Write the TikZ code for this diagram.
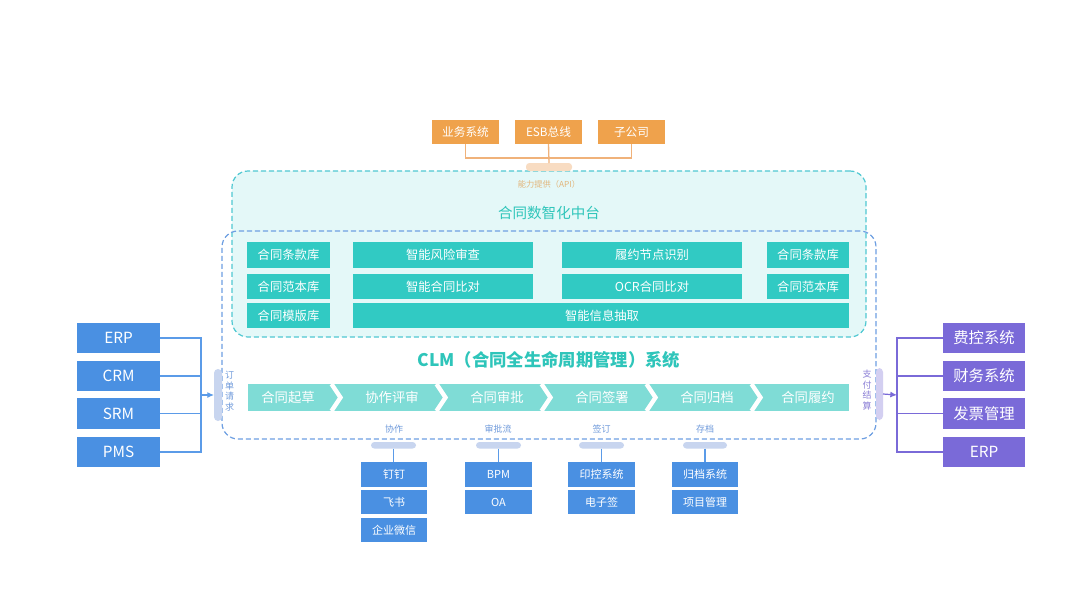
\documentclass[tikz,border=0pt]{standalone}
\usepackage{fontspec}
\setmainfont{Noto Sans CJK SC}
\usetikzlibrary{arrows.meta}
\definecolor{orangebox}{HTML}{EFA24C}
\definecolor{orangeline}{HTML}{F0B27A}
\definecolor{orangepill}{HTML}{F8DCC2}
\definecolor{apitext}{HTML}{E2B57A}
\definecolor{platfill}{HTML}{E4F8F8}
\definecolor{platline}{HTML}{4FC8D2}
\definecolor{teal}{HTML}{31CAC3}
\definecolor{tealtitle}{HTML}{2EC5BA}
\definecolor{barfill}{HTML}{7FDCD6}
\definecolor{clmline}{HTML}{6E9FE2}
\definecolor{bluebox}{HTML}{4A90E2}
\definecolor{blueline}{HTML}{5B9BE8}
\definecolor{bluepill}{HTML}{C8D5EF}
\definecolor{bluetext}{HTML}{6F9ADB}
\definecolor{purplebox}{HTML}{7A6AD8}
\definecolor{purplepill}{HTML}{D3CFF1}
\definecolor{purpletext}{HTML}{8A7ED6}
% box from pixel corners: style, name, x1, y1, x2, y2, text
\newcommand\pxbox[7]{\node[#1, minimum width={(#5-#3)*0.75pt}, minimum height={(#6-#4)*0.75pt}] (#2) at ({(#3+#5)/2},{(#4+#6)/2}) {#7};}
\tikzset{
  fbox/.style={inner sep=0pt, outer sep=0pt, text=white},
  obox/.style={fbox, fill=orangebox, font=\fontsize{8.75}{10}\selectfont},
  mbox/.style={fbox, fill=teal, font=\fontsize{9.25}{11}\selectfont},
  lbox/.style={fbox, fill=bluebox, font=\fontsize{11.5}{13}\selectfont},
  rbox/.style={fbox, fill=purplebox, font=\fontsize{11.5}{13}\selectfont},
  sbox/.style={fbox, fill=bluebox, font=\fontsize{8.25}{10}\selectfont},
  pillshape/.style={inner sep=0pt, outer sep=0pt, rounded corners=2.5pt},
  oline/.style={draw=orangeline, line width=1pt},
  bline/.style={draw=blueline, line width=0.9pt},
  pline/.style={draw=purplebox, line width=0.9pt},
  dashline/.style={dash pattern=on 3.8pt off 2.2pt, line width=0.9pt},
  chev/.style={draw=white, line width=3.3pt, line join=miter},
  steptext/.style={text=white, font=\fontsize{10}{12}\selectfont, inner sep=0pt},
  smalllabel/.style={text=bluetext, font=\fontsize{6.75}{8}\selectfont, inner sep=0pt},
  vertlabel/.style={font=\fontsize{6.75}{8}\selectfont, align=center, inner sep=0pt},
}
\begin{document}
\begin{tikzpicture}[x=0.75pt,y=-0.75pt]
\useasboundingbox[fill=white] (0,0) rectangle (1080,608);

% platform (cyan dashed)
\pxbox{inner sep=0pt, draw=platline, dashline, fill=platfill, rounded corners=12pt}{plat}{232}{171}{866}{337}{}
% CLM box (blue dashed)
\pxbox{inner sep=0pt, draw=clmline, dashline, rounded corners=12pt}{clm}{222}{231}{876}{439}{}

% top sources
\pxbox{obox}{t1}{432}{120}{499}{144}{业务系统}
\pxbox{obox}{t2}{515}{120}{582}{144}{ESB总线}
\pxbox{obox}{t3}{598}{120}{665}{144}{子公司}
\pxbox{pillshape, fill=orangepill}{apill}{526}{163}{572}{171}{}
\coordinate (hb) at (548.5,158);
\draw[oline] (t1.south) |- (hb) -| (t3.south);
\draw[oline] (t2.south) -- (apill.north);

\node[text=apitext, font=\fontsize{6.2}{8}\selectfont, inner sep=0pt] (api) at (549,184) {能力提供（API）};
\node[text=tealtitle, font=\fontsize{10.9}{13}\selectfont, inner sep=0pt] (ptitle) at (549,213) {合同数智化中台};

% modules
\pxbox{mbox}{m1}{247}{242}{330}{268}{合同条款库}
\pxbox{mbox}{m2}{353}{242}{533}{268}{智能风险审查}
\pxbox{mbox}{m3}{562}{242}{742}{268}{履约节点识别}
\pxbox{mbox}{m4}{767}{242}{849}{268}{合同条款库}
\pxbox{mbox}{m5}{247}{274}{330}{299}{合同范本库}
\pxbox{mbox}{m6}{353}{274}{533}{299}{智能合同比对}
\pxbox{mbox}{m7}{562}{274}{742}{299}{OCR合同比对}
\pxbox{mbox}{m8}{767}{274}{849}{299}{合同范本库}
\pxbox{mbox}{m9}{247}{303}{330}{328}{合同模版库}
\pxbox{mbox}{m10}{353}{303}{849}{328}{}
\node[text=white, font=\fontsize{9.25}{11}\selectfont, inner sep=0pt] (m10t) at (602,315.5) {智能信息抽取};

% CLM title
\node[text=tealtitle, font=\fontsize{13}{15}\selectfont\bfseries, inner sep=0pt] (clmtitle) at (549,360) {CLM（合同全生命周期管理）系统};

% process bar
\pxbox{inner sep=0pt, fill=barfill}{bar}{248}{384}{849}{411}{}
\foreach \cx in {331.5,436.5,541.5,646.5,751.5}{
  \draw[chev] (\cx,384) -- (\cx+9,397.5) -- (\cx,411);
}
\node[steptext] (s1) at (288,397.5) {合同起草};
\node[steptext] (s2) at (392,397.5) {协作评审};
\node[steptext] (s3) at (497,397.5) {合同审批};
\node[steptext] (s4) at (602,397.5) {合同签署};
\node[steptext] (s5) at (707,397.5) {合同归档};
\node[steptext] (s6) at (808,397.5) {合同履约};

% small labels
\node[smalllabel] (k1) at (394,429) {协作};
\node[smalllabel] (k2) at (498,429) {审批流};
\node[smalllabel] (k3) at (601.5,429) {签订};
\node[smalllabel] (k4) at (705,429) {存档};

% bottom pills
\pxbox{pillshape, fill=bluepill}{p1}{371}{442}{416}{448.5}{}
\pxbox{pillshape, fill=bluepill}{p2}{476}{442}{521}{448.5}{}
\pxbox{pillshape, fill=bluepill}{p3}{579}{442}{624}{448.5}{}
\pxbox{pillshape, fill=bluepill}{p4}{683}{442}{727}{448.5}{}

% bottom boxes
\pxbox{sbox}{b1}{361}{462}{427}{487}{钉钉}
\pxbox{sbox}{b2}{361}{490}{427}{514}{飞书}
\pxbox{sbox}{b3}{361}{518}{427}{542}{企业微信}
\pxbox{sbox}{b4}{465}{462}{532}{487}{BPM}
\pxbox{sbox}{b5}{465}{490}{532}{514}{OA}
\pxbox{sbox}{b6}{568}{462}{635}{487}{印控系统}
\pxbox{sbox}{b7}{568}{490}{635}{514}{电子签}
\pxbox{sbox}{b8}{672}{462}{738}{487}{归档系统}
\pxbox{sbox}{b9}{672}{490}{738}{514}{项目管理}
\draw[bline] (p1.south) -- (p1.south |- b1.north);
\draw[bline] (p2.south) -- (p2.south |- b4.north);
\draw[bline] (p3.south) -- (p3.south |- b6.north);
\draw[bline] (p4.south) -- (p4.south |- b8.north);

% left systems
\pxbox{lbox}{l1}{77}{323}{160}{353}{ERP}
\pxbox{lbox}{l2}{77}{361}{160}{391}{CRM}
\pxbox{lbox}{l3}{77}{398}{160}{429}{SRM}
\pxbox{lbox}{l4}{77}{437}{160}{467}{PMS}
\coordinate (lt) at (201,395);
\pxbox{pillshape, fill=bluepill, rounded corners=3pt}{lpill}{214}{369}{222}{421}{}
\draw[bline] (l1.east) -- (l1.east -| lt) -- (l4.east -| lt) -- (l4.east);
\draw[bline] (l2.east) -- (l2.east -| lt);
\draw[bline] (l3.east) -- (l3.east -| lt);
\draw[bline, -{Latex[length=5pt,width=4.5pt]}] (lt) -- (lpill.west);
\node[vertlabel, text=bluetext] (ltext) at (229.5,391) {订\\单\\请\\求};

% right systems
\pxbox{rbox}{r1}{943}{323}{1025}{353}{费控系统}
\pxbox{rbox}{r2}{943}{361}{1025}{391}{财务系统}
\pxbox{rbox}{r3}{943}{398}{1025}{429}{发票管理}
\pxbox{rbox}{r4}{943}{437}{1025}{467}{ERP}
\coordinate (rt) at (897,395);
\pxbox{pillshape, fill=purplepill, rounded corners=3pt}{rpill}{876}{368}{883}{420}{}
\draw[pline] (r1.west) -- (r1.west -| rt) -- (r4.west -| rt) -- (r4.west);
\draw[pline] (r2.west) -- (r2.west -| rt);
\draw[pline] (r3.west) -- (r3.west -| rt);
\draw[pline, -{Latex[length=5pt,width=4.5pt]}] (rpill.east) -- (rt);
\node[vertlabel, text=purpletext] (rtext) at (867,390) {支\\付\\结\\算};
\end{tikzpicture}
\end{document}
